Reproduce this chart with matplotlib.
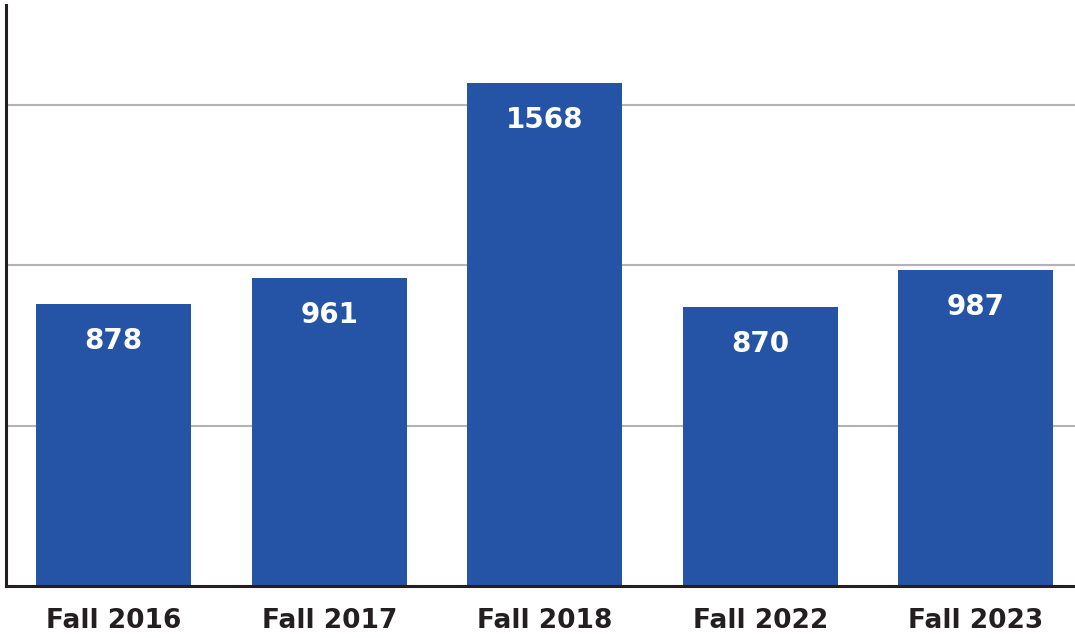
import matplotlib.pyplot as plt

# data
terms = ["Fall 2016", "Fall 2017", "Fall 2018", "Fall 2022", "Fall 2023"]
counts = [878, 961, 1568, 870, 987]
gridlines = [500, 1000, 1500]

bar_color = "#2553a5"
text_color = "#231f20"

fig = plt.figure(figsize=(10.75, 6.38), dpi=100)
ax = fig.add_axes([0.0056, 0.0815, 0.9944, 0.9107])

x = list(range(len(terms)))
bars = ax.bar(x, counts, width=0.72, color=bar_color, zorder=3)

for g in gridlines:
    ax.axhline(g, color="#b3b3b3", lw=1.5, zorder=1)

for xi, v in zip(x, counts):
    ax.annotate(str(v), (xi, v), xytext=(0, -37), textcoords="offset pixels",
                ha="center", va="center", color="white", fontsize=20,
                fontweight="bold", zorder=4)

ax.set_xlim(-0.5, 4.46)
ax.set_ylim(0, 1812)
ax.set_xticks(x)
ax.set_xticklabels(terms, fontsize=19, fontweight="bold", color=text_color)
ax.tick_params(axis="x", length=0, pad=16)
ax.set_yticks([])

for s in ["top", "right"]:
    ax.spines[s].set_visible(False)
for s in ["left", "bottom"]:
    ax.spines[s].set_color("#231f20")
    ax.spines[s].set_linewidth(2.2)
    ax.spines[s].set_zorder(5)

fig.savefig("out.png", dpi=100)
